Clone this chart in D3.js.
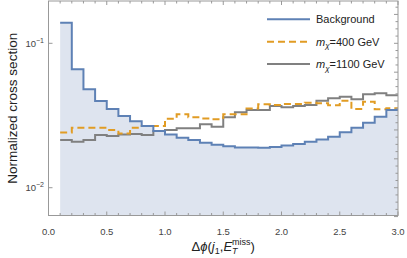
<!DOCTYPE html>
<html>
<head>
<meta charset="utf-8">
<script src="https://cdn.jsdelivr.net/npm/d3@7"></script>
<style>
  body { margin: 0; background: #fff; }
  svg text { font-family: "Liberation Sans", Arial, sans-serif; }
</style>
</head>
<body>
<svg id="chart" width="407" height="258"></svg>
<script>
// bin lower edges (width 0.1), last edge closes the histogram
var binEdges = [0.1, 0.2, 0.3, 0.4, 0.5, 0.6, 0.7, 0.8, 0.9, 1.0,
                1.1, 1.2, 1.3, 1.4, 1.5, 1.6, 1.7, 1.8, 1.9, 2.0,
                2.1, 2.2, 2.3, 2.4, 2.5, 2.6, 2.7, 2.8, 2.9, 3.0];

var background = [0.139, 0.0660, 0.0480, 0.0399, 0.0351, 0.0314, 0.0289, 0.0268, 0.0247, 0.0234,
                  0.0222, 0.0214, 0.0205, 0.0198, 0.0194, 0.0190, 0.0190, 0.0189, 0.0191, 0.0196,
                  0.0201, 0.0208, 0.0216, 0.0225, 0.0242, 0.0260, 0.0282, 0.0310, 0.0345];

var m400 = [0.0241, 0.0260, 0.0260, 0.0260, 0.0251, 0.0237, 0.0260, 0.0268, 0.0268, 0.0300,
            0.0322, 0.0307, 0.0302, 0.0298, 0.0322, 0.0322, 0.0354, 0.0378, 0.0374, 0.0380,
            0.0380, 0.0388, 0.0384, 0.0372, 0.0400, 0.0351, 0.0394, 0.0349, 0.0355];

var m1100 = [0.0214, 0.0208, 0.0214, 0.0232, 0.0228, 0.0234, 0.0235, 0.0232, 0.0247, 0.0251,
             0.0258, 0.0258, 0.0275, 0.0264, 0.0307, 0.0333, 0.0345, 0.0345, 0.0368, 0.0360,
             0.0368, 0.0374, 0.0400, 0.0416, 0.0427, 0.0409, 0.0443, 0.0451, 0.0436];

var xTickLabels = ["0.0", "0.5", "1.0", "1.5", "2.0", "2.5", "3.0"];
var xTicks = [0, 0.5, 1.0, 1.5, 2.0, 2.5, 3.0];
var yTicks = [0.1, 0.01];
var yTickExp = ["\u22121", "\u22122"];
var legendNames = ["Background", "400", "1100"];

var svg = d3.select('#chart');
var frame = {left: 48.5, right: 398, top: 1, bottom: 215.5};

var x = d3.scaleLinear().domain([0, 3]).range([frame.left, frame.right]);
var y = d3.scaleLog().domain([0.00642, 0.1963]).range([frame.bottom, frame.top]);

// turn a series into step points, repeating the last value at the closing edge
var toSteps = function(vals){
  var pts = vals.map(function(v, i){ return [binEdges[i], v]; });
  pts.push([binEdges[vals.length], vals[vals.length - 1]]);
  return pts;
};

var area = d3.area().curve(d3.curveStepAfter)
  .x(function(d){ return x(d[0]); })
  .y0(frame.bottom)
  .y1(function(d){ return y(d[1]); });

var line = d3.line().curve(d3.curveStepAfter)
  .x(function(d){ return x(d[0]); })
  .y(function(d){ return y(d[1]); });

svg.append('defs').append('clipPath').attr('id', 'clip')
  .append('rect')
  .attr('x', frame.left).attr('y', frame.top)
  .attr('width', frame.right - frame.left).attr('height', frame.bottom - frame.top);

var plot = svg.append('g').attr('clip-path', 'url(#clip)');

plot.append('path').datum(toSteps(background))
  .attr('d', area)
  .style('fill', '#dee4ef');

var series = [
  {vals: m1100, color: '#808080', dash: null},
  {vals: m400, color: '#e19c24', dash: '7,4'},
  {vals: background, color: '#5e81b5', dash: null}
];

plot.selectAll('path.series').data(series).enter()
  .append('path')
  .attr('class', 'series')
  .attr('d', function(d){ return line(toSteps(d.vals)); })
  .style('fill', 'none')
  .style('stroke', function(d){ return d.color; })
  .style('stroke-width', 2)
  .style('stroke-dasharray', function(d){ return d.dash; });

// frame
var frameColor = '#999';
svg.append('rect')
  .attr('x', frame.left).attr('y', frame.top)
  .attr('width', frame.right - frame.left).attr('height', frame.bottom - frame.top)
  .style('fill', 'none').style('stroke', frameColor).style('stroke-width', 1);

// x ticks: minor every 0.1, major every 0.5, on bottom and top
var xMinor = d3.range(0, 31).map(function(i){ return i / 10; });
var tickG = svg.append('g').style('stroke', frameColor).style('stroke-width', 1);
xMinor.forEach(function(t, i){
  var len = (i % 5 === 0) ? 4 : 2.5;
  tickG.append('line')
    .attr('x1', x(t)).attr('x2', x(t))
    .attr('y1', frame.bottom).attr('y2', frame.bottom - len);
  tickG.append('line')
    .attr('x1', x(t)).attr('x2', x(t))
    .attr('y1', frame.top).attr('y2', frame.top + len);
});

// y ticks: majors on left and right, right side also gets fine ticks in log space
yTicks.forEach(function(t){
  tickG.append('line')
    .attr('x1', frame.left).attr('x2', frame.left + 4)
    .attr('y1', y(t)).attr('y2', y(t));
});
d3.range(-44, -14).forEach(function(k){
  var lv = k * 0.05;
  var v = Math.pow(10, lv);
  var len = (k % 4 === 0) ? 4 : 2.5;
  tickG.append('line')
    .attr('x1', frame.right).attr('x2', frame.right - len)
    .attr('y1', y(v)).attr('y2', y(v));
});

// x tick labels
svg.selectAll('text.xlab').data(xTicks).enter()
  .append('text')
  .attr('class', 'xlab')
  .attr('x', function(d){ return x(d); })
  .attr('y', 235)
  .attr('text-anchor', 'middle')
  .style('font-size', '9.5px')
  .style('fill', '#444')
  .text(function(d, i){ return xTickLabels[i]; });

// y tick labels 10^-n
var yl = svg.selectAll('text.ylab').data(yTicks).enter()
  .append('text')
  .attr('class', 'ylab')
  .attr('x', 44)
  .attr('y', function(d){ return y(d) + 3.5; })
  .attr('text-anchor', 'end')
  .style('font-size', '9.5px')
  .style('fill', '#444');
yl.append('tspan').text('10');
yl.append('tspan').attr('dy', -4).style('font-size', '7px')
  .text(function(d, i){ return yTickExp[i]; });

// axis titles
svg.append('text')
  .attr('transform', 'translate(17,' + ((frame.top + frame.bottom) / 2) + ') rotate(-90)')
  .attr('text-anchor', 'middle')
  .style('font-size', '13.5px')
  .style('fill', '#222')
  .text('Normalized cross section');

var xl = svg.append('text')
  .attr('x', x(1.5))
  .attr('y', 251)
  .attr('text-anchor', 'middle')
  .style('font-size', '13px')
  .style('fill', '#222');
xl.append('tspan').text('\u0394');
xl.append('tspan').style('font-style', 'italic').text('\u03d5');
xl.append('tspan').text('(');
xl.append('tspan').style('font-style', 'italic').text('j');
xl.append('tspan').attr('dy', 3).style('font-size', '9px').text('1');
xl.append('tspan').attr('dy', -3).text(',');
xl.append('tspan').style('font-style', 'italic').text('E');
xl.append('tspan').attr('dy', 3).style('font-size', '9px').style('font-style', 'italic').text('T');
xl.append('tspan').attr('dx', -5.5).attr('dy', -9).style('font-size', '9px').text('miss');
xl.append('tspan').attr('dy', 6).text(')');

// legend
var legendRows = [
  {color: '#5e81b5', dash: null},
  {color: '#e19c24', dash: '7,4'},
  {color: '#808080', dash: null}
];
var lg = svg.append('g');
legendRows.forEach(function(r, i){
  var ly = 19.3 + i * 22.4;
  lg.append('line')
    .attr('x1', 267).attr('x2', 310)
    .attr('y1', ly).attr('y2', ly)
    .style('stroke', r.color).style('stroke-width', 2)
    .style('stroke-dasharray', r.dash);
  var t = lg.append('text')
    .attr('x', 316).attr('y', ly + 4)
    .style('font-size', '11px')
    .style('fill', '#222');
  if (i === 0) {
    t.text(legendNames[0]);
  } else {
    t.append('tspan').style('font-style', 'italic').text('m');
    t.append('tspan').attr('dy', 2.5).style('font-size', '8px').style('font-style', 'italic').text('\u03c7');
    t.append('tspan').attr('dy', -2.5).text('=' + legendNames[i] + ' GeV');
  }
});
</script>
</body>
</html>
